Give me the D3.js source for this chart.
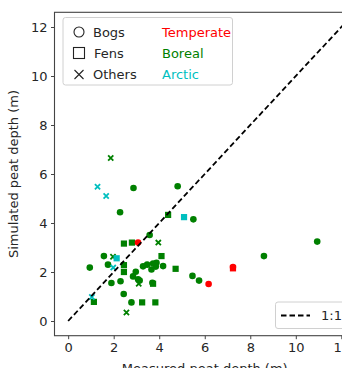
<!DOCTYPE html>
<html><head><meta charset="utf-8">
<script src="https://cdn.jsdelivr.net/npm/d3@7"></script>
<style>body{margin:0;background:#fff;} svg{display:block;font-family:"DejaVu Sans",sans-serif;}</style>
</head><body><svg id="c" width="342" height="368"></svg>
<script>
// Data: [measured, simulated]
const bogsTemperate = [[3.07,3.2],[6.17,1.51],[7.24,2.2]];
const bogsBoreal = [[0.95,2.18],[1.57,2.65],[1.75,2.3],[1.9,1.55],[2.3,1.62],[2.44,1.1],[2.78,0.76],[2.97,2.01],[2.85,1.82],[3.07,1.7],[3.14,1.65],[3.29,2.23],[3.47,2.3],[3.73,2.35],[3.88,2.38],[3.85,2.22],[3.66,2.1],[4.17,2.24],[3.7,1.56],[3.58,3.51],[5.5,4.15],[4.81,5.5],[2.87,5.43],[2.28,4.44],[10.94,3.24],[8.6,2.65],[5.46,1.84],[5.75,1.65]];
const fensTemperate = [[7.24,2.15]];
const fensBoreal = [[1.13,0.78],[2.45,3.16],[2.8,3.2],[2.45,2.28],[2.45,2.0],[4.39,4.33],[4.1,2.65],[4.72,2.13],[3.73,1.52],[3.25,0.76],[3.83,0.76]];
const fensArctic = [[2.13,2.56],[5.09,4.24]];
const othersBoreal = [[1.87,6.65],[1.97,2.62],[2.56,0.35],[3.96,3.2],[3.1,1.52]];
const othersArctic = [[1.29,5.48],[1.67,5.1],[1.04,0.98],[1.98,2.18]];
const xTicks = [0,2,4,6,8,10,12];
const yTicks = [0,2,4,6,8,10,12];
const oneToOne = [[0,0],[12.6,12.6]];

const colors = {Temperate:"#ff0000", Boreal:"#008000", Arctic:"#00bfbf"};
const svg = d3.select("#c");
const pL=54.5, pR=355, pT=12.3, pB=335.7;
const x = d3.scaleLinear().domain([-0.6,12.6]).range([pL,pR]);
const y = d3.scaleLinear().domain([-0.6,12.6]).range([pB,pT]);

svg.append("defs").append("clipPath").attr("id","pc").append("rect")
  .attr("x",pL).attr("y",pT).attr("width",pR-pL).attr("height",pB-pT);
const g = svg.append("g").attr("clip-path","url(#pc)");

function circles(data,col){
  g.selectAll(null).data(data).enter().append("circle")
   .attr("cx",d=>x(d[0])).attr("cy",d=>y(d[1])).attr("r",3.3).attr("fill",col);
}
function squares(data,col){
  const s=6.2;
  g.selectAll(null).data(data).enter().append("rect")
   .attr("x",d=>x(d[0])-s/2).attr("y",d=>y(d[1])-s/2).attr("width",s).attr("height",s).attr("fill",col);
}
function crosses(data,col){
  const h=2.6;
  g.selectAll(null).data(data).enter().append("path")
   .attr("d",d=>{const cx=x(d[0]),cy=y(d[1]);return `M${cx-h},${cy-h}L${cx+h},${cy+h}M${cx-h},${cy+h}L${cx+h},${cy-h}`;})
   .attr("stroke",col).attr("stroke-width",1.8).attr("fill","none");
}
circles(bogsBoreal,colors.Boreal);
squares(fensBoreal,colors.Boreal);
crosses(othersBoreal,colors.Boreal);
squares(fensArctic,colors.Arctic);
crosses(othersArctic,colors.Arctic);
squares(fensTemperate,colors.Temperate);
circles(bogsTemperate,colors.Temperate);

g.append("path").datum(oneToOne)
 .attr("d",d3.line().x(d=>x(d[0])).y(d=>y(d[1])))
 .attr("stroke","#000").attr("stroke-width",1.8).attr("stroke-dasharray","5.5,3").attr("fill","none");

// frame
svg.append("rect").attr("x",pL).attr("y",pT).attr("width",pR-pL).attr("height",pB-pT)
  .attr("fill","none").attr("stroke","#444").attr("stroke-width",1.1);

// axes
const xAxis = svg.append("g").attr("transform",`translate(0,${pB})`)
  .call(d3.axisBottom(x).tickValues(xTicks).tickSize(3.5).tickPadding(3.5).tickFormat(d3.format("d")));
const yAxis = svg.append("g").attr("transform",`translate(${pL},0)`)
  .call(d3.axisLeft(y).tickValues(yTicks).tickSize(3.5).tickPadding(3.5).tickFormat(d3.format("d")));
[xAxis,yAxis].forEach(a=>{
  a.select(".domain").remove();
  a.selectAll("line").attr("stroke","#444").attr("stroke-width",1);
  a.selectAll("text").attr("fill","#262626").style("font-size","13px").style("font-family","DejaVu Sans");
});

svg.append("text").attr("transform",`translate(18,${(pT+pB)/2}) rotate(-90)`)
  .attr("text-anchor","middle").attr("fill","#262626").style("font-size","13px").text("Simulated peat depth (m)");
svg.append("text").attr("x",(pL+pR)/2).attr("y",373)
  .attr("text-anchor","middle").attr("fill","#262626").style("font-size","13px").text("Measured peat depth (m)");

// legend top-left
const lg = svg.append("g");
lg.append("rect").attr("x",63).attr("y",17.5).attr("width",169.5).attr("height",67.5).attr("rx",2.5)
  .attr("fill","#fff").attr("fill-opacity",0.8).attr("stroke","#d0d0d0").attr("stroke-width",1);
const markerRows=[{label:"Bogs",cy:32},{label:"Fens",cy:53},{label:"Others",cy:74.5}];
lg.append("circle").attr("cx",79).attr("cy",32).attr("r",5).attr("fill","none").attr("stroke","#222").attr("stroke-width",1.1);
lg.append("rect").attr("x",73.5).attr("y",47.5).attr("width",11).attr("height",11).attr("fill","none").attr("stroke","#222").attr("stroke-width",1.1);
lg.append("path").attr("d","M74.5,70L83.5,79M74.5,79L83.5,70").attr("stroke","#222").attr("stroke-width",1.1);
lg.selectAll(null).data(markerRows).enter().append("text")
  .attr("x",(d,i)=>i===1?94:93).attr("y",d=>d.cy+4.7).attr("fill","#262626").style("font-size","13px").text(d=>d.label);
const climRows=[{label:"Temperate",cy:32},{label:"Boreal",cy:53},{label:"Arctic",cy:74.5}];
lg.selectAll(null).data(climRows).enter().append("text")
  .attr("x",162).attr("y",d=>d.cy+4.7).attr("fill",d=>colors[d.label]).style("font-size","13px").text(d=>d.label);

// legend 1:1
const lg2 = svg.append("g");
lg2.append("rect").attr("x",275.5).attr("y",302).attr("width",73).attr("height",26.5).attr("rx",2.5)
  .attr("fill","#fff").attr("fill-opacity",0.8).attr("stroke","#d0d0d0").attr("stroke-width",1);
lg2.append("line").attr("x1",281).attr("x2",310).attr("y1",315.5).attr("y2",315.5)
  .attr("stroke","#000").attr("stroke-width",1.8).attr("stroke-dasharray","5.5,3");
lg2.append("text").attr("x",321).attr("y",320.2).attr("fill","#262626").style("font-size","13px").text("1:1");
</script></body></html>
